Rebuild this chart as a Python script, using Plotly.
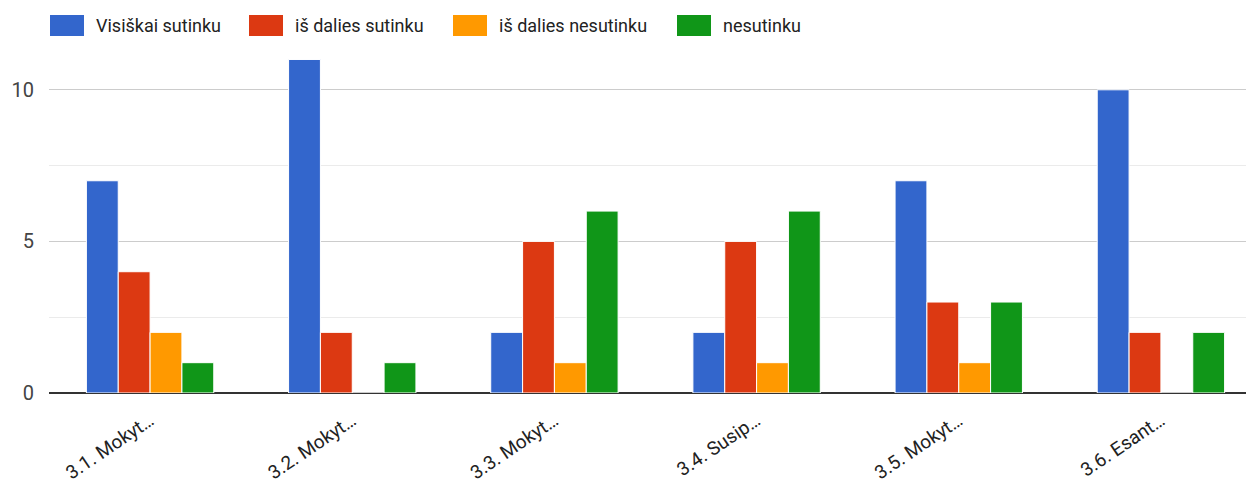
import plotly.graph_objects as go

categories = ["3.1. Mokyt…", "3.2. Mokyt…", "3.3. Mokyt…", "3.4. Susip…", "3.5. Mokyt…", "3.6. Esant…"]
series_names = ["Visiškai sutinku", "iš dalies sutinku", "iš dalies nesutinku", "nesutinku"]
visiskai = [7, 11, 2, 2, 7, 10]
is_dalies_sutinku = [4, 2, 5, 5, 3, 2]
is_dalies_nesutinku = [2, 0, 1, 1, 1, 0]
nesutinku = [1, 1, 6, 6, 3, 2]
colors = ["#3366cc", "#dc3912", "#ff9900", "#109618"]

FONT = "Roboto, Arial, sans-serif"
W, H = 1254, 488
M_L, M_R, M_T, M_B = 41, 0, 6, 103
PAGE_OFF = 8  # body margin of the html page

fig = go.Figure()
for name, vals, col in zip(series_names, [visiskai, is_dalies_sutinku, is_dalies_nesutinku, nesutinku], colors):
    fig.add_trace(go.Bar(x=categories, y=vals, name=name, showlegend=False,
                         marker=dict(color=col, line=dict(color="white", width=1))))

# custom legend (wide swatches as in the reference), positioned in page pixels
plot_w = W - M_L - M_R
plot_h = H - M_T - M_B
left_px = M_L + PAGE_OFF
top_px = M_T + PAGE_OFF
bottom_px = top_px + plot_h
legend_square_px = [50, 249, 453, 677]
sq_w, sq_top, sq_bot = 34, 15, 36
text_gap = 44
legend_mid = (sq_top + sq_bot) / 2

def px_x(p):
    return (p - left_px) / plot_w

def px_y(p):
    return (bottom_px - p) / plot_h

for name, col, sx in zip(series_names, colors, legend_square_px):
    fig.add_shape(type="rect", xref="paper", yref="paper",
                  x0=px_x(sx), x1=px_x(sx + sq_w), y0=px_y(sq_bot), y1=px_y(sq_top),
                  fillcolor=col, line=dict(width=0), layer="above")
    fig.add_annotation(text=name, xref="paper", yref="paper",
                       x=px_x(sx + text_gap), y=px_y(legend_mid),
                       xanchor="left", yanchor="middle", showarrow=False,
                       font=dict(family=FONT, size=18, color="#222"))

fig.update_layout(
    width=W, height=H,
    margin=dict(l=M_L, r=M_R, t=M_T, b=M_B),
    paper_bgcolor="white", plot_bgcolor="white",
    barmode="group", bargap=0.37, bargroupgap=0,
    font=dict(family=FONT, color="#222"),
    showlegend=False,
    xaxis=dict(tickangle=-34, tickfont=dict(family=FONT, size=19, color="#222"),
               showline=False, ticks="", showgrid=False, ticklabelstandoff=12),
    yaxis=dict(range=[0, 12.5], tickvals=[0, 5, 10], ticktext=["0", "5", "10"],
               tickfont=dict(family=FONT, size=20, color="#444"), showgrid=True, gridcolor="#cccccc",
               gridwidth=1, zeroline=True, zerolinecolor="#333333", zerolinewidth=2,
               ticks="", ticklabelstandoff=14,
               minor=dict(dtick=2.5, tick0=0, showgrid=True, gridcolor="#ebebeb", gridwidth=1)),
)

fig.write_html("out.html")
